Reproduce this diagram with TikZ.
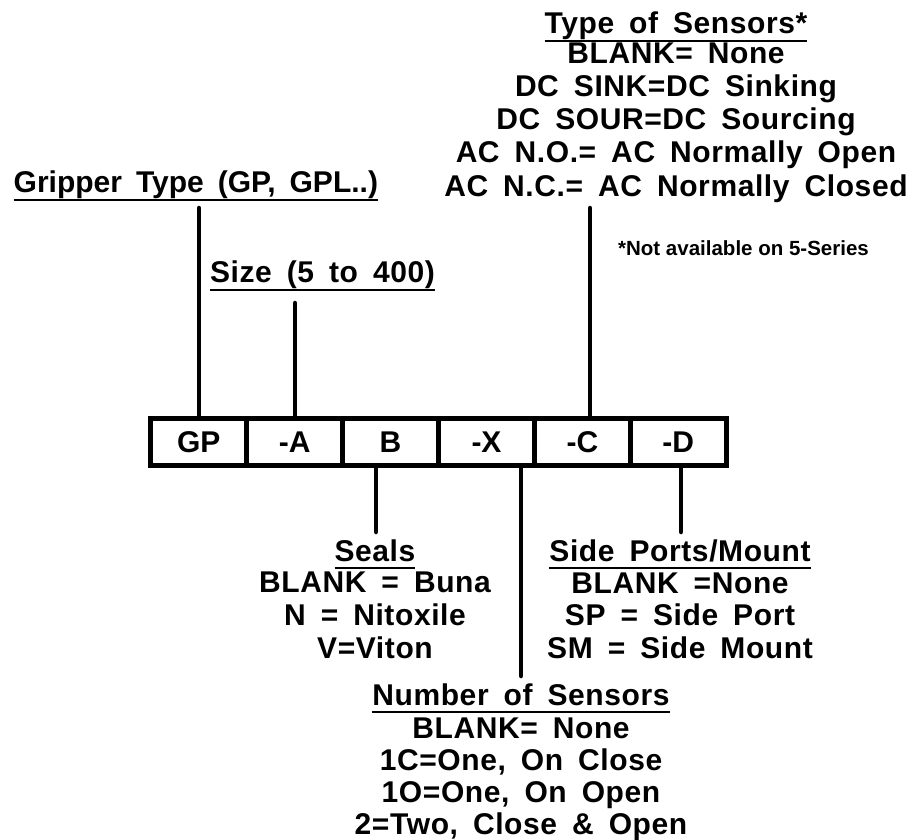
\documentclass[tikz,border=0pt]{standalone}
\usepackage{fontspec}
\setmainfont{Liberation Sans}
\newfontfamily\labfont{Liberation Sans}
\newfontfamily\lsfont{Liberation Sans}[LetterSpace=2]
\newfontfamily\notefont{Liberation Sans}
\newcommand\widespace{\spaceskip=15pt\relax}
\newcommand\midspace{\spaceskip=14pt\relax}
\begin{document}
\begin{tikzpicture}[x=1pt,y=-1pt,
  lbl/.style={inner sep=0pt, outer sep=0pt, anchor=base, font={\fontsize{30}{30}\selectfont\lsfont\bfseries\widespace}},
  lblnarrow/.style={inner sep=0pt, outer sep=0pt, anchor=base, font={\fontsize{30}{30}\selectfont\labfont\bfseries\midspace}},
  note/.style={inner sep=0pt, outer sep=0pt, anchor=base, font={\fontsize{20.5}{20.5}\selectfont\notefont\bfseries}},
  cell/.style={draw, line width=5pt, minimum width=95.92pt, minimum height=46.5pt, inner sep=0pt, outer sep=0pt, font={\fontsize{30}{30}\selectfont\labfont\bfseries}},
  conn/.style={line width=4.5pt, line cap=round},
  uline/.style={line width=2pt}]
\useasboundingbox (0,0) rectangle (913,840);

% part-number boxes
\node[cell] (c1) at (198.7,442) {GP};
\node[cell] (c2) at (294.6,442) {-A};
\node[cell] (c3) at (390.5,442) {B};
\node[cell] (c4) at (486.5,442) {-X};
\node[cell] (c5) at (582.4,442) {-C};
\node[cell] (c6) at (678.3,442) {-D};

% connectors
\coordinate (gpTop) at (199,208);
\coordinate (szTop) at (295,303);
\coordinate (tsTop) at (590,208);
\coordinate (slBot) at (376,532);
\coordinate (nsBot) at (521,676);
\coordinate (spBot) at (681,532);
\draw[conn] (gpTop) -- (gpTop |- c1.north);
\draw[conn] (szTop) -- (szTop |- c2.north);
\draw[conn] (tsTop) -- (tsTop |- c5.north);
\draw[conn] (slBot |- c3.south) -- (slBot);
\draw[conn] (nsBot |- c4.south) -- (nsBot);
\draw[conn] (spBot |- c6.south) -- (spBot);

% Gripper type
\node[lblnarrow, anchor=base east] (grip) at (378,193) {Gripper Type (GP, GPL..)};
\draw[uline] ([yshift=-7pt]grip.base west) -- ([yshift=-7pt]grip.base east);

% Size
\node[lbl] (sz) at (322.5,282) {Size (5 to 400)};
\draw[uline] ([yshift=-8pt]sz.base west) -- ([yshift=-8pt]sz.base east);

% Type of sensors
\node[lbl] (ts0) at (676,34) {Type of Sensors*};
\draw[uline] ([yshift=-7pt]ts0.base west) -- ([yshift=-7pt]ts0.base east);
\node[lbl] (ts1) at (676,64) {BLANK= None};
\node[lbl] (ts2) at (676,97) {DC SINK=DC Sinking};
\node[lbl] (ts3) at (676,130) {DC SOUR=DC Sourcing};
\node[lbl] (ts4) at (676,163) {AC N.O.= AC Normally Open};
\node[lbl] (ts5) at (676,196) {AC N.C.= AC Normally Closed};
\node[note] (nt) at (743.5,255) {*Not available on 5-Series};

% Seals
\node[lbl] (sl0) at (375,561) {Seals};
\draw[uline] ([yshift=-7pt]sl0.base west) -- ([yshift=-7pt]sl0.base east);
\node[lbl] (sl1) at (375,592) {BLANK = Buna};
\node[lbl] (sl2) at (375,625) {N = Nitoxile};
\node[lbl] (sl3) at (375,658) {V=Viton};

% Side ports
\node[lbl] (sp0) at (680,561) {Side Ports/Mount};
\draw[uline] ([yshift=-7pt]sp0.base west) -- ([yshift=-7pt]sp0.base east);
\node[lbl] (sp1) at (680,593) {BLANK =None};
\node[lbl] (sp2) at (680,625) {SP = Side Port};
\node[lbl] (sp3) at (680,658) {SM = Side Mount};

% Number of sensors
\node[lbl] (ns0) at (521,705) {Number of Sensors};
\draw[uline] ([yshift=-7pt]ns0.base west) -- ([yshift=-7pt]ns0.base east);
\node[lbl] (ns1) at (521,738) {BLANK= None};
\node[lbl] (ns2) at (521,770) {1C=One, On Close};
\node[lbl] (ns3) at (521,802) {1O=One, On Open};
\node[lbl] (ns4) at (521,834) {2=Two, Close \& Open};
\end{tikzpicture}
\end{document}
